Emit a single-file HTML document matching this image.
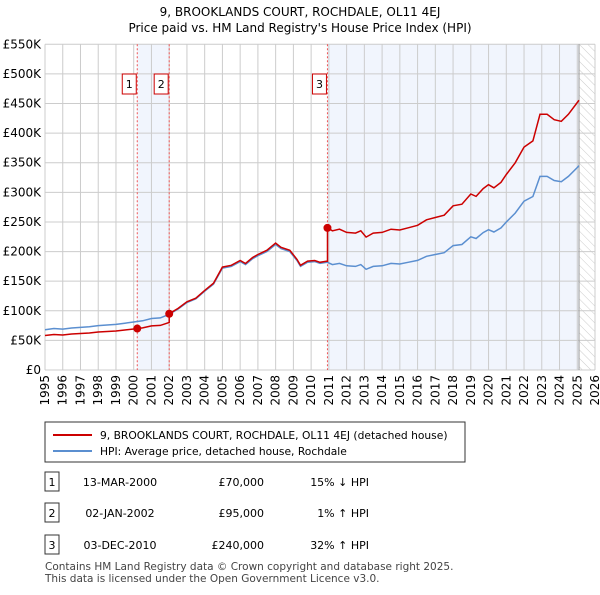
<!DOCTYPE html>
<html><head><meta charset="utf-8"><style>
body{margin:0;background:#fff;font-family:"Liberation Sans","DejaVu Sans",sans-serif;}
svg text{font-family:"DejaVu Sans","Liberation Sans",sans-serif;}
</style></head><body>
<svg id="c" width="600" height="590" xmlns="http://www.w3.org/2000/svg">
<defs><pattern id="hatch" width="6" height="6" patternUnits="userSpaceOnUse" patternTransform="rotate(-45)"><line x1="0" y1="0" x2="0" y2="6" stroke="#ccc" stroke-width="1"/></pattern></defs>
<text x="300" y="16" text-anchor="middle" font-size="12">9, BROOKLANDS COURT, ROCHDALE, OL11 4EJ</text>
<text x="300" y="32" text-anchor="middle" font-size="12">Price paid vs. HM Land Registry's House Price Index (HPI)</text>
<g id="plot"></g>
<g>
<rect x="45" y="422" width="420" height="40" fill="#fff" stroke="#333"/>
<line x1="53" y1="435" x2="92" y2="435" stroke="#c00" stroke-width="2"/>
<text x="100" y="439" font-size="10.7">9, BROOKLANDS COURT, ROCHDALE, OL11 4EJ (detached house)</text>
<line x1="53" y1="451" x2="92" y2="451" stroke="#5b8fd0" stroke-width="2"/>
<text x="100" y="455" font-size="10.7">HPI: Average price, detached house, Rochdale</text>
</g>
<g id="table" font-size="11"></g>
<text x="45" y="570" font-size="10.5" fill="#444">Contains HM Land Registry data © Crown copyright and database right 2025.</text>
<text x="45" y="582" font-size="10.5" fill="#444">This data is licensed under the Open Government Licence v3.0.</text>
</svg>
<script>
const hpiDates=[1995.0,1995.5,1996.0,1996.5,1997.0,1997.5,1998.0,1998.5,1999.0,1999.5,2000.0,2000.5,2001.0,2001.5,2002.0,2002.5,2003.0,2003.5,2004.0,2004.5,2005.0,2005.5,2006.0,2006.3,2006.7,2007.0,2007.5,2008.0,2008.3,2008.8,2009.2,2009.4,2009.8,2010.2,2010.5,2010.9,2011.2,2011.6,2012.0,2012.5,2012.8,2013.1,2013.5,2014.0,2014.5,2015.0,2015.5,2016.0,2016.5,2017.0,2017.5,2018.0,2018.5,2019.0,2019.3,2019.7,2020.0,2020.3,2020.7,2021.0,2021.5,2022.0,2022.5,2022.9,2023.3,2023.7,2024.1,2024.5,2025.0,2025.1];
const hpiValues=[68,70,69,71,72,73,75,76,77,79,81,83,87,88,94,103,114,120,133,145,172,175,183,178,188,193,200,212,205,200,185,175,182,183,180,182,178,180,176,175,178,170,175,176,180,179,182,185,192,195,198,210,212,225,222,232,237,233,240,250,265,285,293,327,327,320,318,327,342,345];
const saleDates=[2000.2,2002.0,2010.92];
const salePrices=[70000,95000,240000];
const saleLabels=["13-MAR-2000","02-JAN-2002","03-DEC-2010"];
const saleHpi=["15% ↓ HPI","1% ↑ HPI","32% ↑ HPI"];
const yTicks=[0,50,100,150,200,250,300,350,400,450,500,550];
const yTickLabels=["£0","£50K","£100K","£150K","£200K","£250K","£300K","£350K","£400K","£450K","£500K","£550K"];
const xYears=[1995,1996,1997,1998,1999,2000,2001,2002,2003,2004,2005,2006,2007,2008,2009,2010,2011,2012,2013,2014,2015,2016,2017,2018,2019,2020,2021,2022,2023,2024,2025,2026];
const dataEnd=2025.1;

const NS="http://www.w3.org/2000/svg";
const L=45,R=595,T=44.3,B=370;
const X=t=>L+(t-1995)/(2026-1995)*(R-L);
const Y=v=>B-v/550*(B-T);
const g=document.getElementById('plot');
function mk(tag,attrs,parent){const e=document.createElementNS(NS,tag);for(const k in attrs)e.setAttribute(k,attrs[k]);(parent||g).appendChild(e);return e;}
function hpiAt(t){for(let i=0;i<hpiDates.length-1;i++){if(t<=hpiDates[i+1]){const f=(t-hpiDates[i])/(hpiDates[i+1]-hpiDates[i]);return hpiValues[i]+f*(hpiValues[i+1]-hpiValues[i]);}}return hpiValues[hpiValues.length-1];}
let e=mk('rect',{x:X(saleDates[0]),y:T,width:X(saleDates[1])-X(saleDates[0]),height:B-T,fill:'#eef3fc',opacity:0.8});

e=mk('rect',{x:X(saleDates[2]),y:T,width:X(dataEnd)-X(saleDates[2]),height:B-T,fill:'#eef3fc',opacity:0.8});

e=mk('rect',{x:X(dataEnd),y:T,width:R-X(dataEnd),height:B-T,fill:'url(#hatch)'});

yTicks.forEach((v,i)=>{let l=mk('line',{x1:L,x2:R,y1:Y(v),y2:Y(v),stroke:'#ccc'});

let t=mk('text',{x:L-4,y:Y(v)+4,'text-anchor':'end','font-size':12});t.textContent=yTickLabels[i];
});
xYears.forEach(yr=>{let l=mk('line',{x1:X(yr),x2:X(yr),y1:T,y2:B,stroke:'#ccc'});

let t=mk('text',{x:0,y:0,'text-anchor':'end','font-size':12,transform:`translate(${X(yr)+4},${B+5}) rotate(-90)`});t.textContent=yr;
});
e=mk('line',{x1:X(dataEnd),x2:X(dataEnd),y1:T,y2:B,stroke:'#999'});

saleDates.forEach((d,i)=>{let l=mk('line',{x1:X(d),x2:X(d),y1:T,y2:B,stroke:'#e55','stroke-dasharray':'2,2'});

let r=mk('rect',{x:X(d)-15,y:74,width:14,height:20,fill:'#fff',stroke:'#c00'});

let t=mk('text',{x:X(d)-8,y:88,'text-anchor':'middle','font-size':11});t.textContent=i+1;
});
let p='';hpiDates.forEach((t,i)=>{p+=(i?'L':'M')+X(t).toFixed(1)+','+Y(hpiValues[i]).toFixed(1);});
e=mk('path',{d:p,fill:'none',stroke:'#5b8fd0','stroke-width':1.5});

function ratioAt(t){let k=0;for(let i=0;i<saleDates.length;i++)if(t>=saleDates[i])k=i;return salePrices[k]/1000/hpiAt(saleDates[k]);}
let pts=[];hpiDates.forEach((t,i)=>{saleDates.forEach(d=>{if(i>0&&d>hpiDates[i-1]&&d<=t){pts.push([d,hpiAt(d)*ratioAt(d-1e-6)]);pts.push([d,hpiAt(d)*ratioAt(d)]);}});pts.push([t,hpiValues[i]*ratioAt(t)]);});
p='';pts.forEach((q,i)=>{p+=(i?'L':'M')+X(q[0]).toFixed(1)+','+Y(q[1]).toFixed(1);});
e=mk('path',{d:p,fill:'none',stroke:'#c00','stroke-width':1.5});

saleDates.forEach((d,i)=>{let c=mk('circle',{cx:X(d),cy:Y(salePrices[i]/1000),r:4,fill:'#c00'});
});
const tb=document.getElementById('table');
const rowsY=[482,513,545];
saleDates.forEach((d,i)=>{const y=rowsY[i];
let r=mk('rect',{x:45,y:y-10,width:14,height:19,fill:'#fff',stroke:'#333'},tb);

let t=mk('text',{x:52,y:y+4,'text-anchor':'middle'},tb);t.textContent=i+1;

t=mk('text',{x:120,y:y+4,'text-anchor':'middle'},tb);t.textContent=saleLabels[i];

t=mk('text',{x:264,y:y+4,'text-anchor':'end'},tb);t.textContent='£'+salePrices[i].toLocaleString('en-GB');

t=mk('text',{x:369,y:y+4,'text-anchor':'end'},tb);t.textContent=saleHpi[i];
});
</script>
</body></html>
